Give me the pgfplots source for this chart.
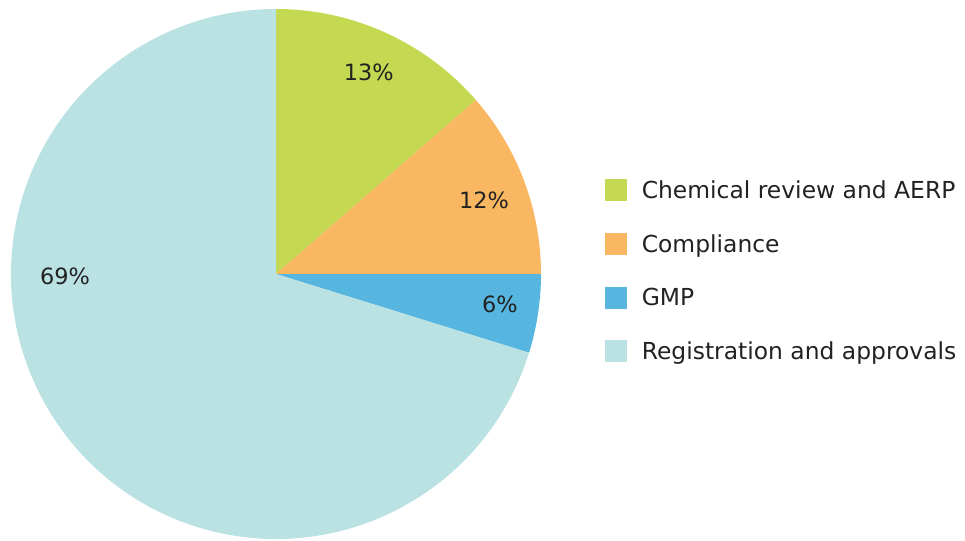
\documentclass[border=0pt]{standalone}
\usepackage{pgfplots}
\pgfplotsset{compat=1.18}
\usepackage{fontspec}
\setmainfont{DejaVu Sans}
\definecolor{cgreen}{RGB}{196,216,82}
\definecolor{corange}{RGB}{249,183,98}
\definecolor{cblue}{RGB}{86,182,224}
\definecolor{clight}{RGB}{187,226,227}
\definecolor{ctext}{RGB}{34,34,34}
\begin{document}
\begin{tikzpicture}
% slice shares (percent of the circle, as drawn)
\def\vA{13.6}\def\vB{11.4}\def\vC{4.8}\def\vD{70.2}
\pgfmathsetmacro\aA{90}
\pgfmathsetmacro\aB{\aA-3.6*\vA}
\pgfmathsetmacro\aC{\aB-3.6*\vB}
\pgfmathsetmacro\aD{\aC-3.6*\vC}
\pgfmathsetmacro\aE{\aD-3.6*\vD}
\begin{axis}[
  x=265bp, y=265bp,
  xmin=-1.0415, xmax=2.6, ymin=-1.004, ymax=1.034,
  hide axis, clip=false,
  legend style={draw=none, fill=none, at={(axis cs:1.24,0.36)}, anchor=north west,
    font=\fontsize{23.5}{26}\selectfont\color{ctext}, row sep=30.5bp,
    inner sep=0pt, cells={anchor=west}},
  legend image code/.code={\fill[#1,draw=none] (0bp,-11bp) rectangle (22bp,11bp);\path[draw=none,fill=none] (22bp,0) -- (35bp,0);},
]
\path (rel axis cs:0,0) rectangle (rel axis cs:1,1);
\fill[cgreen, overlay] (axis cs:0,0) -- (axis cs:{cos(\aA)},{sin(\aA)}) arc[start angle=\aA, end angle=\aB, radius=265bp] -- cycle;
\fill[corange, overlay] (axis cs:0,0) -- (axis cs:{cos(\aB)},{sin(\aB)}) arc[start angle=\aB, end angle=\aC, radius=265bp] -- cycle;
\fill[cblue, overlay] (axis cs:0,0) -- (axis cs:{cos(\aC)},{sin(\aC)}) arc[start angle=\aC, end angle=\aD, radius=265bp] -- cycle;
\fill[clight, overlay] (axis cs:0,0) -- (axis cs:{cos(\aD)},{sin(\aD)}) arc[start angle=\aD, end angle=\aE, radius=265bp] -- cycle;
\addlegendimage{cgreen}\addlegendentry{Chemical review and AERP}
\addlegendimage{corange}\addlegendentry{Compliance}
\addlegendimage{cblue}\addlegendentry{GMP}
\addlegendimage{clight}\addlegendentry{Registration and approvals}
\begin{scope}[every node/.style={font=\fontsize{22.5}{26}\selectfont, text=ctext}]
\node at (axis cs:0.350,0.762) {13\%};
\node at (axis cs:0.785,0.279) {12\%};
\node at (axis cs:0.845,-0.113) {6\%};
\node at (axis cs:-0.796,-0.008) {69\%};
\end{scope}
\end{axis}
\end{tikzpicture}
\end{document}
